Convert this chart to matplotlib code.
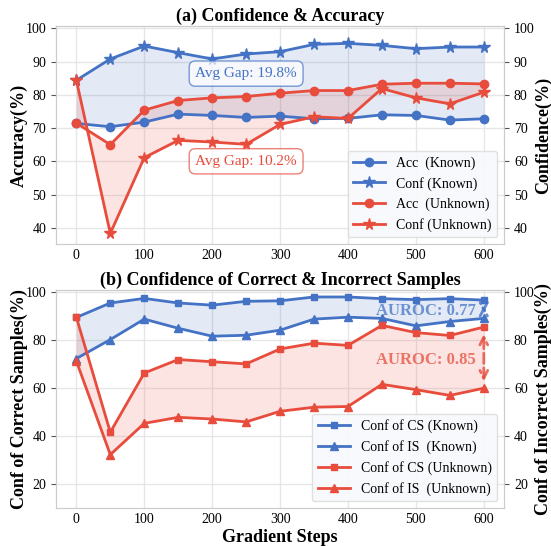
import numpy as np
import matplotlib
matplotlib.use("Agg")
import matplotlib.pyplot as plt

plt.rcParams['font.family'] = 'serif'
plt.rcParams['font.serif'] = ['Liberation Serif', 'DejaVu Serif']

# data
steps = [0, 50, 100, 150, 200, 250, 300, 350, 400, 450, 500, 550, 600]

acc_known = [71.4, 70.4, 71.8, 74.2, 73.8, 73.2, 73.6, 72.8, 72.9, 74.0, 73.8, 72.4, 72.8]
conf_known = [84.4, 90.8, 94.7, 92.7, 90.8, 92.3, 93.0, 95.2, 95.5, 94.9, 93.9, 94.4, 94.4]
acc_unknown = [71.5, 65.0, 75.4, 78.3, 79.1, 79.5, 80.5, 81.3, 81.3, 83.2, 83.5, 83.5, 83.3]
conf_unknown = [84.4, 38.3, 61.1, 66.3, 65.8, 65.1, 71.1, 73.4, 72.9, 81.9, 79.1, 77.3, 80.8]

cs_known = [89.3, 95.3, 97.2, 95.3, 94.4, 96.0, 96.2, 97.8, 97.8, 97.1, 96.7, 97.1, 96.5]
is_known = [72.2, 80.1, 88.6, 84.8, 81.5, 81.9, 84.0, 88.6, 89.4, 88.9, 85.8, 87.6, 88.9]
cs_unknown = [89.4, 41.6, 66.2, 71.8, 70.9, 70.0, 76.2, 78.6, 77.7, 86.0, 83.0, 81.8, 85.3]
is_unknown = [71.2, 32.3, 45.3, 47.8, 47.1, 45.9, 50.3, 52.0, 52.3, 61.5, 59.3, 56.9, 59.9]

gap_known = "Avg Gap: 19.8%"
gap_unknown = "Avg Gap: 10.2%"
auroc_known = "AUROC: 0.77"
auroc_unknown = "AUROC: 0.85"

blue = "#4472C4"
red = "#E74C3C"
grid_c = "#e6e6e6"
spine_c = "#cccccc"


def style_axes(ax, right=None):
    ax.grid(True, color=grid_c, lw=1)
    ax.set_axisbelow(True)
    for a in [ax, right]:
        if a is None:
            continue
        for s in a.spines.values():
            s.set_color(spine_c)
        a.tick_params(labelsize=10, color='#555555', length=3.5, width=0.8)
    ax.tick_params(axis='x', length=0)


fig = plt.figure(figsize=(5.51, 5.46), dpi=100)
ax1 = fig.add_axes([0.1016, 0.5525, 0.8134, 0.3997])
ax2 = fig.add_axes([0.1016, 0.069, 0.8134, 0.3990])

# ---- (a) Confidence & Accuracy
ax1.fill_between(steps, acc_known, conf_known, color=blue, alpha=0.15, lw=0)
ax1.fill_between(steps, acc_unknown, conf_unknown, color=red, alpha=0.15, lw=0)
ax1.plot(steps, acc_known, color=blue, lw=2, marker='o', ms=6, label="Acc  (Known)")
ax1.plot(steps, conf_known, color=blue, lw=2, marker='*', ms=8.5, label="Conf (Known)")
ax1.plot(steps, acc_unknown, color=red, lw=2, marker='o', ms=6, label="Acc  (Unknown)")
ax1.plot(steps, conf_unknown, color=red, lw=2, marker='*', ms=8.5, label="Conf (Unknown)")

ax1.set_xlim(-30, 630)
ax1.set_ylim(35, 100.7)
ax1.set_xticks(range(0, 601, 100))
ax1.set_yticks(range(40, 101, 10))
ax1r = ax1.twinx()
ax1r.set_ylim(35, 100.7)
ax1r.set_yticks(range(40, 101, 10))
style_axes(ax1, ax1r)
ax1.set_ylabel("Accuracy(%)", fontsize=13, fontweight='bold', labelpad=-1.5)
ax1r.set_ylabel("Confidence(%)", fontsize=13, fontweight='bold', labelpad=0)
ax1.set_title("(a) Confidence & Accuracy", fontsize=13, fontweight='bold', pad=4)

ax1.text(250, 86.4, gap_known, color=blue, fontsize=11, ha='center', va='center',
         bbox=dict(boxstyle='round,pad=0.4', fc='white', ec=blue, alpha=0.7, lw=1))
ax1.text(250, 60, gap_unknown, color=red, fontsize=11, ha='center', va='center',
         bbox=dict(boxstyle='round,pad=0.4', fc='white', ec=red, alpha=0.7, lw=1))

leg = ax1.legend(loc='lower right', fontsize=10, handlelength=2.3, facecolor='#f8f9fc',
                 edgecolor='#dddddd', framealpha=0.9)
leg.set_zorder(5)

# ---- (b) Confidence of correct & incorrect samples
ax2.fill_between(steps, is_known, cs_known, color=blue, alpha=0.15, lw=0)
ax2.fill_between(steps, is_unknown, cs_unknown, color=red, alpha=0.15, lw=0)
ax2.plot(steps, cs_known, color=blue, lw=2, marker='s', ms=5, label="Conf of CS (Known)")
ax2.plot(steps, is_known, color=blue, lw=2, marker='^', ms=6, label="Conf of IS  (Known)")
ax2.plot(steps, cs_unknown, color=red, lw=2, marker='s', ms=5, label="Conf of CS (Unknown)")
ax2.plot(steps, is_unknown, color=red, lw=2, marker='^', ms=6, label="Conf of IS  (Unknown)")

ax2.set_xlim(-30, 630)
ax2.set_ylim(10, 100.5)
ax2.set_xticks(range(0, 601, 100))
ax2.set_yticks(range(20, 101, 20))
ax2r = ax2.twinx()
ax2r.set_ylim(10, 100.5)
ax2r.set_yticks(range(20, 101, 20))
style_axes(ax2, ax2r)
ax2.set_ylabel("Conf of Correct Samples(%)", fontsize=13, fontweight='bold', labelpad=-1.5)
ax2r.set_ylabel("Conf of Incorrect Samples(%)", fontsize=13, fontweight='bold', labelpad=0)
ax2.set_xlabel("Gradient Steps", fontsize=13, fontweight='bold', labelpad=2)
ax2.set_title("(b) Confidence of Correct & Incorrect Samples", fontsize=13,
              fontweight='bold', pad=4)

ax2.annotate('', xy=(steps[-1], cs_known[-1]), xytext=(steps[-1], is_known[-1]),
             arrowprops=dict(arrowstyle='<->', ls='--', color=blue, lw=2,
                             mutation_scale=13, shrinkA=4, shrinkB=4, alpha=0.8))
ax2.annotate('', xy=(steps[-1], cs_unknown[-1]), xytext=(steps[-1], is_unknown[-1]),
             arrowprops=dict(arrowstyle='<->', ls='--', color=red, lw=2,
                             mutation_scale=14, shrinkA=5, shrinkB=5, alpha=0.8))
ax2.text(588, 91.8, auroc_known, color=blue, alpha=0.75, fontsize=12,
         fontweight='bold', ha='right', va='center')
ax2.text(588, 71.8, auroc_unknown, color=red, alpha=0.75, fontsize=12,
         fontweight='bold', ha='right', va='center')

leg2 = ax2.legend(loc='lower right', fontsize=10, handlelength=2.3, facecolor='#f8f9fc',
                  edgecolor='#dddddd', framealpha=0.9)
leg2.set_zorder(5)

fig.savefig("out.png", dpi=100)
